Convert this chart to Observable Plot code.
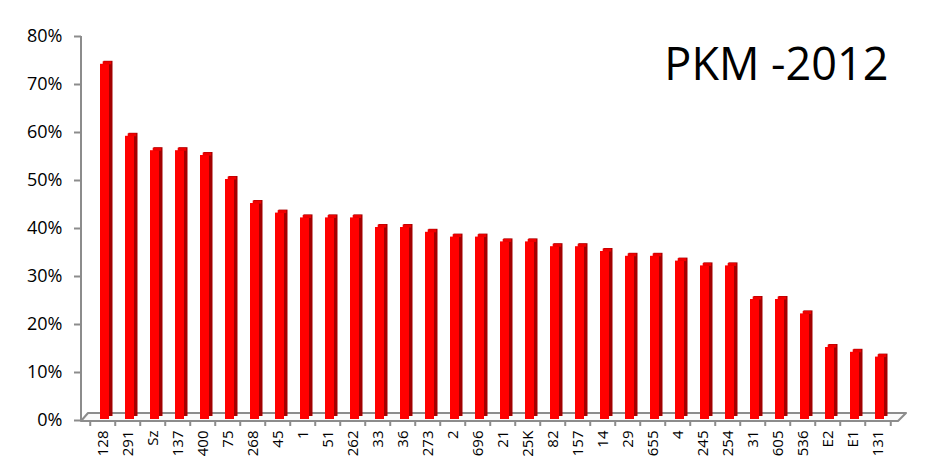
<!DOCTYPE html>
<html>
<head>
<meta charset="utf-8">
<script src="https://cdn.jsdelivr.net/npm/d3@7"></script>
<script src="https://cdn.jsdelivr.net/npm/@observablehq/plot@0.6"></script>
<style>
  html, body { margin: 0; padding: 0; background: #fff; }
  #chart svg { display: block; }
</style>
</head>
<body>
<div id="chart"></div>
<script>
const title = "PKM -2012";
const categories = ["128","291","Sz","137","400","75","268","45","1","51","262","33","36","273","2","696","21","25K","82","157","14","29","655","4","245","254","31","605","536","E2","E1","131"];
const values = [0.74,0.59,0.56,0.56,0.55,0.50,0.45,0.43,0.42,0.42,0.42,0.40,0.40,0.39,0.38,0.38,0.37,0.37,0.36,0.36,0.35,0.34,0.34,0.33,0.32,0.32,0.25,0.25,0.22,0.15,0.14,0.13];
const yTicks = [0, 0.1, 0.2, 0.3, 0.4, 0.5, 0.6, 0.7, 0.8];

const data = categories.map((name, i) => ({name, value: values[i]}));

const W = 945, H = 473;
const ML = 81, MR = 44, MT = 36, MB = 53;
const insetL = 3, insetR = 0;
const step = (W - ML - MR - insetL - insetR) / categories.length;
const gray = "#8c8c8c";

function floor(index, scales, values, dims) {
  const y0 = scales.y(0);
  const l = dims.marginLeft, r = dims.width - dims.marginRight;
  const g = d3.create("svg:g");
  g.append("polygon")
    .attr("points", [[l, y0 + 1], [r - 3, y0 + 1], [r + 5, y0 - 7], [l + 7, y0 - 7]].map(p => p.join(",")).join(" "))
    .attr("fill", "#fafafa")
    .attr("stroke", gray)
    .attr("stroke-width", 2)
    .attr("stroke-linejoin", "round");
  g.append("line")
    .attr("x1", l).attr("x2", l)
    .attr("y1", dims.marginTop).attr("y2", y0 + 1)
    .attr("stroke", gray).attr("stroke-width", 2);
  return g.node();
}

const chart = Plot.plot({
  width: W,
  height: H,
  marginLeft: ML,
  marginRight: MR,
  marginTop: MT,
  marginBottom: MB,
  style: {fontFamily: "'Open Sans', sans-serif", background: "#fff", color: "#000"},
  x: {domain: categories, paddingInner: 0.63, paddingOuter: 0.315, insetLeft: insetL, insetRight: insetR, label: null, axis: null},
  y: {domain: [0, 0.8], label: null, axis: null},
  marks: [
    floor,
    Plot.axisY({ticks: yTicks, tickFormat: d3.format(".0%"), tickSize: 7, tickPadding: 12, fontSize: 18, stroke: gray, strokeWidth: 2, fill: "#000", label: null}),
    Plot.axisX({tickSize: 5, tickFormat: () => "", dx: -step / 2 - 2, dy: 1, stroke: gray, strokeWidth: 2, label: null}),
    Plot.axisX({ticks: [categories[categories.length - 1]], tickSize: 5, tickFormat: () => "", dx: step / 2 - 2, dy: 1, stroke: gray, strokeWidth: 2, label: null}),
    Plot.axisX({tickSize: 0, tickPadding: 10, tickRotate: -90, fontSize: 15, fill: "#000", dx: -1.5, label: null}),
    Plot.barY(data, {x: "name", y: "value", fill: "#a30000", dx: 3.5, dy: -4}),
    Plot.barY(data, {x: "name", y: "value", fill: "#ff0000", dy: -1}),
    Plot.tickY(data, {x: "name", y: "value", stroke: "#ee0000", strokeWidth: 3, dx: 2.2, dy: -2.5, insetLeft: 0.5}),
    Plot.text([title], {frameAnchor: "top-right", text: d => d, dx: -13, dy: 29, lineAnchor: "middle", textAnchor: "end", fontSize: 45, fill: "#000"})
  ]
});
document.getElementById("chart").append(chart);
</script>
</body>
</html>
